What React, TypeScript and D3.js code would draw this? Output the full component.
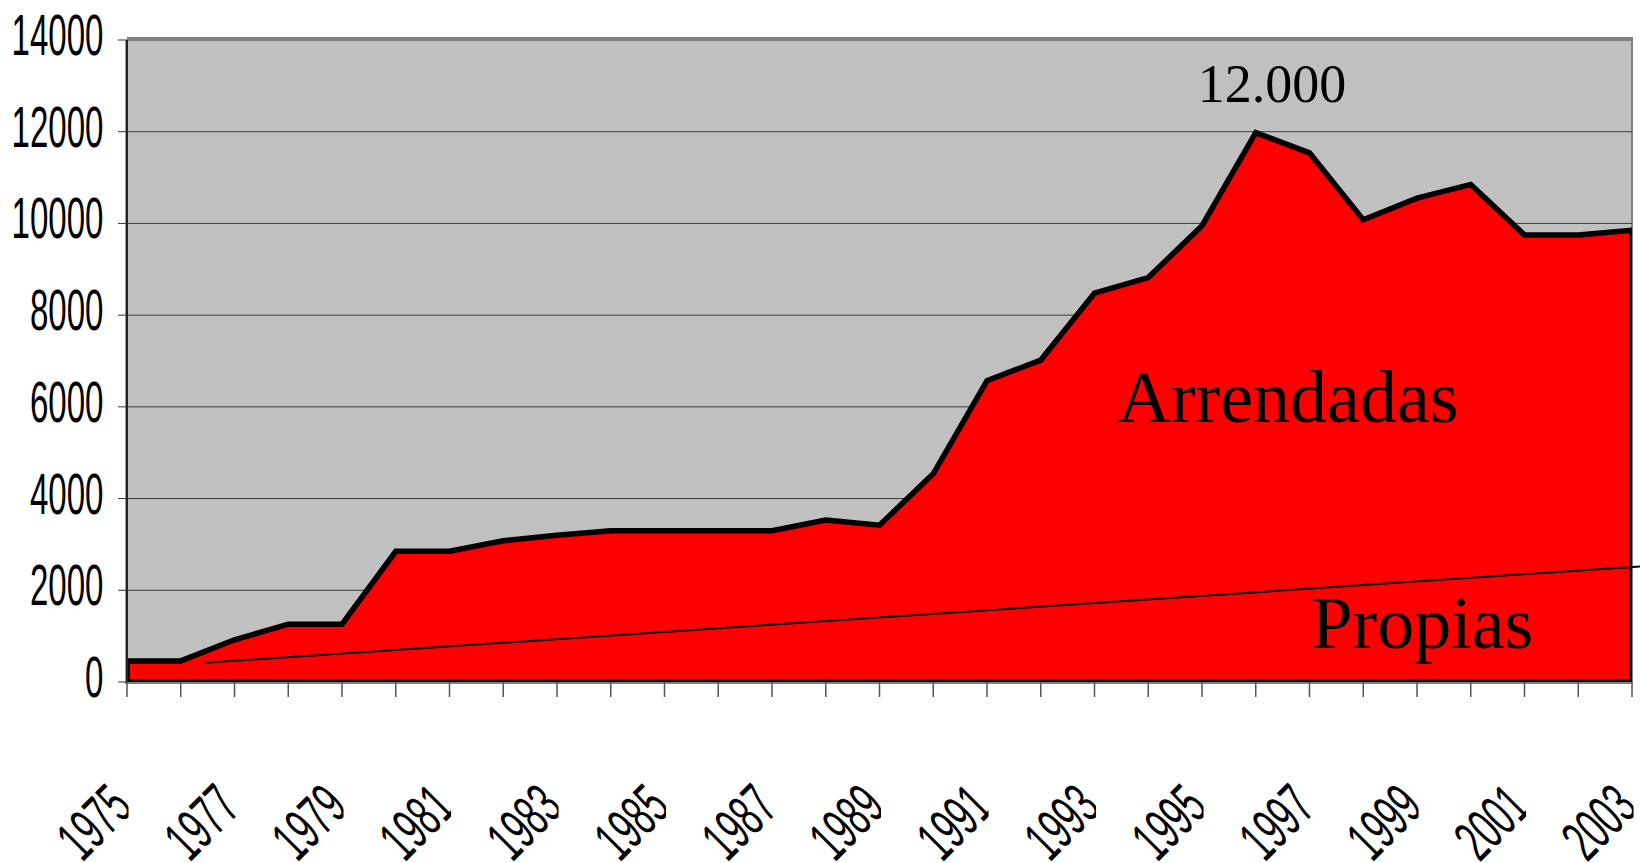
import * as d3 from "d3";

const years = [
  1975, 1976, 1977, 1978, 1979, 1980, 1981, 1982, 1983, 1984, 1985, 1986, 1987, 1988, 1989,
  1990, 1991, 1992, 1993, 1994, 1995, 1996, 1997, 1998, 1999, 2000, 2001, 2002, 2003,
];

// total hectares (arrendadas sits on top of propias, area drawn to the top line)
const arrendadas = [
  460, 460, 920, 1260, 1260, 2850, 2850, 3080, 3200, 3300, 3300, 3300, 3300, 3530, 3420,
  4540, 6570, 7020, 8480, 8820, 9950, 11980, 11540, 10080, 10550, 10850, 9750, 9750, 9850,
];

// propias trend drawn as a straight line
const propiasLine = [
  { year: 1976.45, value: 420 },
  { year: 2003.15, value: 2520 },
];

const yTicks = [0, 2000, 4000, 6000, 8000, 10000, 12000, 14000];
const xLabels = [1975, 1977, 1979, 1981, 1983, 1985, 1987, 1989, 1991, 1993, 1995, 1997, 1999, 2001, 2003];

const notes = [
  { text: "12.000", year: 1996.3, value: 12640, size: 54 },
  { text: "Arrendadas", year: 1996.6, value: 5680, size: 74 },
  { text: "Propias", year: 1999.1, value: 740, size: 74 },
];

const W = 1640;
const H = 863;
const left = 127;
const right = 1632;
const top = 40;
const bottom = 682;

const x = d3.scaleLinear().domain([1975, 2003]).range([left, right]);
const y = d3.scaleLinear().domain([0, 14000]).range([bottom, top]);

const narrow = "Liberation Sans, Arial, sans-serif";
const serif = "Liberation Serif, Times New Roman, serif";

export default function App() {
  const pts = years.map((yr, i) => ({ yr, v: arrendadas[i] }));
  const area = d3
    .area<{ yr: number; v: number }>()
    .x((d) => x(d.yr))
    .y0(y(0))
    .y1((d) => y(d.v));
  const line = d3
    .line<{ year: number; value: number }>()
    .x((d) => x(d.year))
    .y((d) => y(d.value));

  return (
    <div style={{ position: "absolute", left: 0, top: 0 }}>
      <svg width={W} height={H} style={{ display: "block", background: "#fff" }}>
        <defs>
          <clipPath id="plot">
            <rect x={left} y={top} width={right - left} height={bottom - top} />
          </clipPath>
          {xLabels.map((yr) => (
            <clipPath id={`lab-${yr}`} key={yr}>
              <rect x={x(yr) - 160} y={bottom + 5} width={161.5} height={H - bottom} />
            </clipPath>
          ))}
        </defs>

        {/* plot background */}
        <rect x={left} y={top} width={right - left} height={bottom - top} fill="#c0c0c0" />
        <rect x={left} y={top - 3} width={right - left + 1} height={4} fill="#808080" />
        <line x1={right} x2={right} y1={top} y2={bottom} stroke="#808080" strokeWidth={2} />

        {/* gridlines */}
        {yTicks.slice(1, -1).map((t) => (
          <line key={t} x1={left} x2={right} y1={y(t)} y2={y(t)} stroke="#3a3a3a" strokeWidth={1} />
        ))}

        {/* area */}
        <g clipPath="url(#plot)">
          <path d={area(pts) || ""} fill="#ff0000" stroke="#000" strokeWidth={5.5} strokeLinejoin="miter" />
        </g>
        <path d={line(propiasLine) || ""} fill="none" stroke="#000" strokeWidth={2} />

        {/* axes */}
        <line x1={left - 1.5} x2={left - 1.5} y1={top} y2={bottom + 2} stroke="#9a9a9a" strokeWidth={1} />
        <line x1={left} x2={left} y1={top} y2={bottom + 2} stroke="#222" strokeWidth={2} />
        <line x1={left} x2={right + 1} y1={bottom + 1} y2={bottom + 1} stroke="#808080" strokeWidth={2} />
        {yTicks.map((t) => (
          <line key={t} x1={left - 9} x2={left} y1={y(t)} y2={y(t)} stroke="#333" strokeWidth={1} />
        ))}
        {years.map((yr) => (
          <line key={yr} x1={x(yr)} x2={x(yr)} y1={bottom} y2={bottom + 15} stroke="#555" strokeWidth={1.5} />
        ))}

        {/* y labels */}
        {yTicks.map((t) => (
          <text
            key={t}
            transform={`translate(103.5, ${y(t) + 15}) scale(0.57, 1)`}
            textAnchor="end"
            fontFamily={narrow}
            fontSize={58}
            fill="#000"
          >
            {t}
          </text>
        ))}

        {/* x labels */}
        {xLabels.map((yr) => (
          <g key={yr} clipPath={`url(#lab-${yr})`}>
            <text
              transform={`translate(${x(yr) + 8}, 810) rotate(-45) scale(0.57, 1)`}
              textAnchor="end"
              fontFamily={narrow}
              fontSize={59}
              fill="#000"
            >
              {yr}
            </text>
          </g>
        ))}

        {/* annotations */}
        {notes.map((n) => (
          <text
            key={n.text}
            x={x(n.year)}
            y={y(n.value)}
            textAnchor="middle"
            fontFamily={serif}
            fontSize={n.size}
            fill="#000"
          >
            {n.text}
          </text>
        ))}
      </svg>
    </div>
  );
}
